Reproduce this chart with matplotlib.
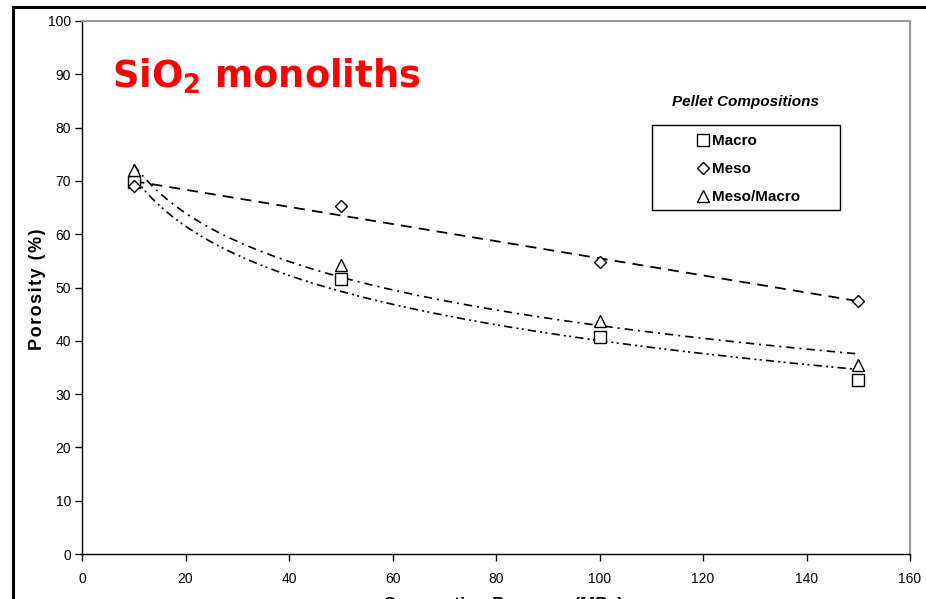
import numpy as np
import matplotlib
matplotlib.use("Agg")
import matplotlib.pyplot as plt
from matplotlib.lines import Line2D
from matplotlib.patches import Rectangle

pressure = [10, 50, 100, 150]
macro = [69.7, 51.6, 40.8, 32.6]
meso = [69.0, 65.2, 54.8, 47.4]
meso_macro = [72.0, 54.2, 43.8, 35.4]

x_ticks = list(range(0, 161, 20))
y_ticks = list(range(0, 101, 10))

TICK_FONT = ["Liberation Sans Narrow", "Liberation Sans", "DejaVu Sans"]
SANS = ["Liberation Sans", "DejaVu Sans"]
W, H = 926, 599


def fx(px):
    return px / W


def fy(py):
    return 1 - py / H


def log_trend(x, y, xs):
    m, c = np.polyfit(np.log(x), y, 1)
    return m * np.log(xs) + c


def linear_trend(x, y, xs):
    m, c = np.polyfit(x, y, 1)
    return m * xs + c


fig = plt.figure(figsize=(9.26, 5.99), dpi=100)
ax = fig.add_axes([fx(82), fy(554), 828 / W, 533 / H])

xs = np.linspace(pressure[0], pressure[-1], 200)
ax.plot(xs, linear_trend(pressure, meso, xs), color="black", lw=1.3,
        linestyle=(0, (6, 4)))
ax.plot(xs, log_trend(pressure, meso_macro, xs), color="black", lw=1.2,
        linestyle=(0, (5, 3, 1.2, 3)))
ax.plot(xs, log_trend(pressure, macro, xs), color="black", lw=1.2,
        linestyle=(0, (5, 2.5, 1.2, 2, 1.2, 2.5)))

ax.plot(pressure, macro, linestyle="none", marker="s", ms=8, mfc="white",
        mec="black", mew=1.0)
ax.plot(pressure, meso, linestyle="none", marker="D", ms=6.5, mfc="white",
        mec="black", mew=1.0)
ax.plot(pressure, meso_macro, linestyle="none", marker="^", ms=9, mfc="white",
        mec="black", mew=1.0)

ax.set_xlim(0, 160)
ax.set_ylim(0, 100)
ax.set_xticks(x_ticks)
ax.set_yticks(y_ticks)
for lab in ax.get_xticklabels() + ax.get_yticklabels():
    lab.set_family(TICK_FONT)
    lab.set_fontsize(10)
ax.tick_params(axis="both", direction="out", length=5, width=1, color="black")
ax.tick_params(axis="x", pad=8)
ax.tick_params(axis="y", pad=3)

for side in ("top", "right"):
    ax.spines[side].set_color("#999999")
    ax.spines[side].set_linewidth(1.5)
for side in ("left", "bottom"):
    ax.spines[side].set_color("black")
    ax.spines[side].set_linewidth(1.0)

fig.text(fx(37), fy(289), "\u200a".join("Porosity (%)"), rotation=90,
         ha="center", va="center", fontsize=13, fontweight="bold", family=SANS)
fig.text(fx(503), fy(606), "Compaction Pressure (MPa)", ha="center",
         va="center", fontsize=13, fontweight="bold", family=SANS)

fig.text(fx(112), fy(76), r"SiO$_\mathbf{2}$ monoliths", color="#ff0000",
         fontsize=26.5, fontweight="bold", family="DejaVu Sans",
         ha="left", va="center")

# legend: title sits above the framed box
handles = [
    Line2D([], [], linestyle="none", marker="s", ms=8, mfc="white", mec="black"),
    Line2D([], [], linestyle="none", marker="D", ms=6.5, mfc="white", mec="black"),
    Line2D([], [], linestyle="none", marker="^", ms=9, mfc="white", mec="black"),
]
leg = fig.legend(handles, ["Macro", "Meso", "Meso/Macro"],
                 loc="upper left", bbox_to_anchor=(fx(697), fy(134)),
                 frameon=False, handlelength=0.8, handletextpad=0.2,
                 borderpad=0, labelspacing=0.92, borderaxespad=0,
                 prop={"family": SANS, "weight": "bold", "size": 11})
fig.add_artist(Rectangle((fx(652), fy(210)), fx(840) - fx(652),
                         fy(125) - fy(210), transform=fig.transFigure,
                         fill=False, edgecolor="black", lw=1.0))
fig.text(fx(745), fy(102), "Pellet Compositions", ha="center", va="center",
         fontsize=11, fontweight="bold", fontstyle="italic", family=SANS)

# outer frame of the original figure (only top and left edges visible)
fig.add_artist(Line2D([fx(12.5), 1.0], [fy(7), fy(7)],
                      transform=fig.transFigure, color="black", lw=2.2))
fig.add_artist(Line2D([fx(12.5), fx(12.5)], [0, fy(7)],
                      transform=fig.transFigure, color="black", lw=2.2))

fig.savefig("out.png", dpi=100)
